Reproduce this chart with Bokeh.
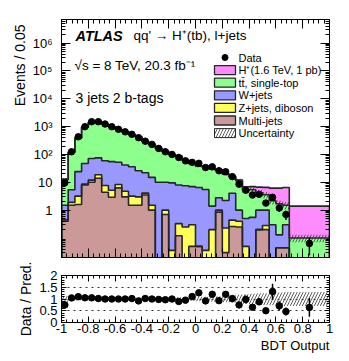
import numpy as np
from bokeh.plotting import figure
from bokeh.layouts import column
from bokeh.models import FixedTicker, LinearAxis, LogAxis, Range1d, Label, Title
from bokeh.embed import file_html
from bokeh.resources import INLINE

# ---------------- data ----------------
bin_edges = [-1.0, -0.95, -0.9, -0.85, -0.8, -0.75, -0.7, -0.65, -0.6, -0.55,
             -0.5, -0.45, -0.4, -0.35, -0.3, -0.25, -0.2, -0.15, -0.1, -0.05,
             0.0, 0.05, 0.1, 0.15, 0.2, 0.25, 0.3, 0.35, 0.4, 0.45,
             0.5, 0.55, 0.6, 0.65, 0.7, 1.0]

multijet = [0.4, 1.5, 1.6, 8.0, 10, 14, 4.4, 2.9, 6.3, 3.0,
            1.5, 1.5, 3.5, 1.0, 0, 0.7, 0, 0.12, 0, 0.05,
            0.05, 0, 0, 0.85, 0.03, 0.26, 0.25, 0, 0, 0.2,
            0.2, 0, 0.045, 0.045, 0]
zjets = [0.05, 0.4, 1.6, 0.6, 2.0, 4.6, 3.3, 2.3, 2.0, 1.8,
         1.7, 1.5, 0.6, 0.5, 0, 0.3, 0.036, 0.21, 0.25, 0.25,
         0, 0.036, 0.2, 0.15, 0.2, 0.18, 0.15, 0.05, 0, 0,
         0.08, 0, 0, 0, 0]
wjets = [1.05, 3.5, 21, 39, 60, 57, 52, 50, 44, 37,
         33, 23, 18, 13.5, 10, 9, 9.5, 7.7, 7.3, 6.7,
         6.5, 5.5, 1.2, 1.8, 2.0, 3.6, 0.6, 0.45, 0.55, 0.8,
         0.72, 0.3, 0.085, 0.255, 0]
ttbar = [11.3, 114, 367, 895, 1357, 1394, 1180, 935, 748, 608,
         484, 409, 272, 215, 158, 119, 90.5, 79, 54.5, 40,
         31.5, 31.5, 28.6, 25.2, 17.8, 11.7, 10.5, 4.8, 4.85, 3.2,
         2.6, 1.9, 1.57, 1.2, 0.1]
hplus = [0, 0, 0, 0, 0, 0, 0, 0, 0, 0,
         0, 0, 0, 0, 0, 0, 0, 0, 0, 0,
         0, 0, 0, 0, 0, 0.2, 0.5, 1.6, 1.6, 2.5,
         3.0, 4.0, 4.5, 5.0, 1.3]
data = [9.6, 125, 430, 990, 1500, 1500, 1240, 990, 800, 650,
        530, 400, 300, 230, 165, 125, 100, 78, 59, 52,
        48, 34, 36, 26, 24, 16, 8.6, 5.2, 3.5, 3.7,
        1.8, 2.9, 1.2, 0.7, 0.064]
ratio_err = [0.15, 0.06, 0.04, 0.03, 0.03, 0.03, 0.03, 0.03, 0.03, 0.03,
             0.03, 0.03, 0.04, 0.04, 0.05, 0.06, 0.06, 0.07, 0.08, 0.09,
             0.1, 0.1, 0.12, 0.12, 0.14, 0.12, 0.08, 0.17, 0.12, 0.15,
             0.1, 0.33, 0.2, 0.17, 0.4]
unc_rel = [0.12, 0.08, 0.06, 0.05, 0.05, 0.05, 0.05, 0.05, 0.05, 0.05,
           0.05, 0.05, 0.05, 0.05, 0.06, 0.06, 0.06, 0.07, 0.07, 0.08,
           0.1, 0.1, 0.12, 0.12, 0.14, 0.15, 0.18, 0.2, 0.22, 0.25,
           0.25, 0.27, 0.28, 0.3, 0.3]

legend_labels = ["Data", "H\u207a(1.6 TeV, 1 pb)", "tt\u0304, single-top", "W+jets",
                 "Z+jets, diboson", "Multi-jets", "Uncertainty"]
x_tick_values = [-1, -0.8, -0.6, -0.4, -0.2, 0, 0.2, 0.4, 0.6, 0.8, 1]
x_tick_labels = ["-1", "-0.8", "-0.6", "-0.4", "-0.2", "0", "0.2", "0.4", "0.6", "0.8", "1"]
y_tick_values = [1, 10, 100, 1000, 10000, 100000, 1000000]
y_tick_labels = ["1", "10", "10\u00b2", "10\u00b3", "10\u2074", "10\u2075", "10\u2076"]
r_tick_values = [0, 0.5, 1, 1.5, 2]
r_tick_labels = ["0", "0.5", "1", "1.5", "2"]

# ---------------- style / layout ----------------
FONT = "Liberation Sans"
C_H = "#ff8cff"
C_TT = "#8cff8c"
C_W = "#9898ff"
C_Z = "#ffff55"
C_MJ = "#cc9999"
C_LINE = "#262626"

FX0, FX1 = 61, 329          # page px of plot frames (x)
FY0, FY1 = 19, 257          # main frame (y)
RY0, RY1 = 275, 322         # ratio frame (y)
X_MIN, X_MAX = -1.0, 1.0
Y_MIN, Y_MAX = 0.02, 7e6
R_MIN, R_MAX = 0.0, 2.0
FLOOR = 1e-4


def xd(px):
    return float(X_MIN + (px - FX0) * (X_MAX - X_MIN) / (FX1 - FX0))


def yd(py):
    lt, lb = np.log10(Y_MAX), np.log10(Y_MIN)
    return float(10 ** (lt - (py - FY0) * (lt - lb) / (FY1 - FY0)))


edges = np.array(bin_edges)
left, right = edges[:-1], edges[1:]
centers = (left + right) / 2
nb = len(left)


def step_path(vals):
    xs, ys = [edges[0]], [FLOOR]
    for i in range(nb):
        xs += [edges[i], edges[i + 1]]
        ys += [vals[i], vals[i]]
    xs.append(edges[-1])
    ys.append(FLOOR)
    return xs, ys


def top_path(vals):
    xs, ys = [], []
    for i in range(nb):
        xs += [edges[i], edges[i + 1]]
        ys += [vals[i], vals[i]]
    return xs, ys


def style_axis(ax, major, minor, show, standoff=3):
    ax.major_tick_in = major
    ax.major_tick_out = 0
    ax.minor_tick_in = minor
    ax.minor_tick_out = 0
    ax.axis_line_color = "black"
    ax.major_tick_line_color = "black"
    ax.minor_tick_line_color = "black"
    ax.major_label_text_font = FONT
    ax.major_label_text_color = "black"
    if show:
        ax.major_label_text_font_size = "13px"
        ax.major_label_standoff = standoff
    else:
        ax.major_label_text_font_size = "2px"
        ax.major_label_text_alpha = 0
        ax.major_label_standoff = 0


x_minor = [float(v) for v in np.round(np.arange(-1.0, 1.0001, 0.04), 3)]
y_minor = [m * 10.0 ** k for k in range(-2, 7) for m in range(2, 10)]
r_minor = [float(v) for v in np.round(np.arange(0, 2.0001, 0.1), 2)]

# ---------------- main panel ----------------
p1 = figure(width=341, height=263, x_range=Range1d(X_MIN, X_MAX),
            y_range=Range1d(Y_MIN, Y_MAX), y_axis_type="log",
            output_backend="svg", toolbar_location=None,
            min_border_left=FX0, min_border_right=341 - FX1, min_border_top=FY0,
            min_border_bottom=263 - FY1)
p1.outline_line_color = "black"
p1.outline_line_width = 1
p1.grid.visible = False

xt = FixedTicker(ticks=x_tick_values, minor_ticks=x_minor)
yt = FixedTicker(ticks=y_tick_values, minor_ticks=y_minor)
p1.xaxis[0].ticker = xt
style_axis(p1.xaxis[0], 9, 4, False)
p1.yaxis[0].ticker = yt
style_axis(p1.yaxis[0], 9, 4, True, 9)
p1.yaxis[0].major_label_overrides = dict(zip(y_tick_values, y_tick_labels))
ax_top = LinearAxis(ticker=xt)
style_axis(ax_top, 9, 4, False)
p1.add_layout(ax_top, "above")
ax_right = LogAxis(ticker=yt)
style_axis(ax_right, 9, 4, False)
p1.add_layout(ax_right, "right")
p1.add_layout(Title(text="Events / 0.05", align="right", offset=5, standoff=4,
                    text_font=FONT, text_font_size="14px", text_font_style="normal",
                    text_color="black"), "left")

comps = [multijet, zjets, wjets, ttbar, hplus]
colors = [C_MJ, C_Z, C_W, C_TT, C_H]
cum = np.zeros(nb)
tops = []
for comp, col in zip(comps, colors):
    bottom = cum.copy()
    cum = cum + np.array(comp, dtype=float)
    tops.append(cum.copy())
    tx, ty = top_path(np.maximum(cum, FLOOR))
    bx, by = top_path(np.maximum(bottom, FLOOR))
    p1.patch(tx + bx[::-1], ty + by[::-1], fill_color=col, line_alpha=0)

pred = tops[3]
unc = np.array(unc_rel)
p1.quad(left=left, right=right, bottom=pred * (1 - unc), top=pred * (1 + unc),
        fill_alpha=0, line_alpha=0, hatch_pattern="/", hatch_color="#333333",
        hatch_scale=6, hatch_weight=0.8)

for t in tops:
    sx, sy = step_path(np.maximum(t, FLOOR))
    p1.line(sx, sy, line_color=C_LINE, line_width=1.6)

d = np.array(data)
err = np.array(ratio_err) * pred
p1.segment(x0=centers, y0=np.maximum(d - err, FLOOR), x1=centers, y1=d + err,
           line_color="black", line_width=1.5)
p1.scatter(centers, d, size=6.5, color="black")

# texts
p1.add_layout(Label(x=xd(75), y=yd(35), text="ATLAS", text_font=FONT,
                    text_font_style="bold italic", text_font_size="14.5px",
                    text_baseline="middle", text_color="black"))
p1.add_layout(Label(x=xd(133), y=yd(35), text="qq' \u2192 H\u207a(tb), l+jets",
                    text_font=FONT, text_font_size="13.5px", text_baseline="middle",
                    text_color="black"))
p1.add_layout(Label(x=xd(74), y=yd(65), text="\u221as = 8 TeV, 20.3 fb\u207b\u00b9",
                    text_font=FONT, text_font_size="13.5px", text_baseline="middle",
                    text_color="black"))
p1.add_layout(Label(x=xd(75), y=yd(97), text="3 jets 2 b-tags",
                    text_font=FONT, text_font_size="14px", text_baseline="middle",
                    text_color="black"))

# legend (drawn by hand)
LX0, LX1, LTX = 214, 235, 238
row_y = [57 + 12.6 * i for i in range(7)]
p1.scatter([xd((LX0 + LX1) / 2)], [yd(row_y[0])], size=6, color="black")
box_cols = [C_H, C_TT, C_W, C_Z, C_MJ]
for i, col in enumerate(box_cols):
    yc = row_y[i + 1]
    p1.quad(left=[xd(LX0)], right=[xd(LX1)], bottom=[yd(yc + 4.5)], top=[yd(yc - 4.5)],
            fill_color=col, line_color=C_LINE, line_width=1.3)
yc = row_y[6]
p1.quad(left=[xd(LX0)], right=[xd(LX1)], bottom=[yd(yc + 4.5)], top=[yd(yc - 4.5)],
        fill_alpha=0, line_color=C_LINE, line_width=1.0, hatch_pattern="/",
        hatch_color="#333333", hatch_scale=6, hatch_weight=0.8)
for lab, yc in zip(legend_labels, row_y):
    p1.add_layout(Label(x=xd(LTX), y=yd(yc), text=lab, text_font=FONT,
                        text_font_size="11px", text_baseline="middle",
                        text_color="black"))

# ---------------- ratio panel ----------------
p2 = figure(width=341, height=90, x_range=Range1d(X_MIN, X_MAX),
            y_range=Range1d(R_MIN, R_MAX), output_backend="svg",
            toolbar_location=None, min_border_left=FX0, min_border_right=341 - FX1,
            min_border_top=RY0 - 263, min_border_bottom=90 - (RY1 - 263))
p2.outline_line_color = "black"
p2.outline_line_width = 1
p2.xgrid.visible = False
p2.ygrid.ticker = FixedTicker(ticks=[0.5, 1, 1.5])
p2.ygrid.grid_line_color = "#333333"
p2.ygrid.grid_line_dash = "dotted"
p2.ygrid.grid_line_width = 1

xt2 = FixedTicker(ticks=x_tick_values, minor_ticks=x_minor)
rt = FixedTicker(ticks=r_tick_values, minor_ticks=r_minor)
p2.xaxis[0].ticker = xt2
style_axis(p2.xaxis[0], 6, 3, True, 1)
p2.xaxis[0].major_label_overrides = dict(zip(x_tick_values, x_tick_labels))
p2.yaxis[0].ticker = rt
style_axis(p2.yaxis[0], 5, 3, True, 4)
p2.yaxis[0].major_label_overrides = dict(zip(r_tick_values, r_tick_labels))
ax_top2 = LinearAxis(ticker=xt2)
style_axis(ax_top2, 6, 3, False)
p2.add_layout(ax_top2, "above")
ax_right2 = LinearAxis(ticker=rt)
style_axis(ax_right2, 5, 3, False)
p2.add_layout(ax_right2, "right")
p2.add_layout(Title(text="Data / Pred.", align="center", offset=-21, standoff=6,
                    text_font=FONT, text_font_size="14px", text_font_style="normal",
                    text_color="black"), "left")
p2.add_layout(Title(text="BDT Output", align="right", standoff=1,
                    text_font=FONT, text_font_size="13px", text_font_style="normal",
                    text_color="black"), "below")

p2.quad(left=left, right=right, bottom=1 - unc, top=1 + unc,
        fill_alpha=0, line_alpha=0, hatch_pattern="/", hatch_color="#333333",
        hatch_scale=6, hatch_weight=0.8)
ratio = d / pred
rerr = np.array(ratio_err)
p2.segment(x0=centers, y0=ratio - rerr, x1=centers, y1=ratio + rerr,
           line_color="black", line_width=1.5)
p2.scatter(centers, ratio, size=6.5, color="black")

layout = column(p1, p2)
open("out.html", "w").write(file_html(layout, INLINE))
